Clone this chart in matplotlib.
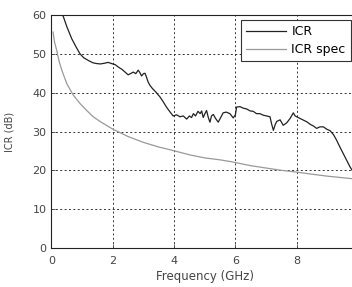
import matplotlib
matplotlib.use('Agg')
import matplotlib.pyplot as plt

# ICR measured curve (GHz, dB)
icr_freq = [0.3, 0.39, 0.5, 0.66, 0.8, 0.93, 1.05, 1.2, 1.35, 1.47, 1.6,
            1.74, 1.85, 1.96, 2.08, 2.18, 2.3, 2.4, 2.5, 2.6, 2.67, 2.75,
            2.83, 2.88, 2.94, 3.0, 3.05, 3.1, 3.15, 3.21, 3.3, 3.4, 3.54,
            3.65, 3.75, 3.87, 3.97, 4.08, 4.19, 4.3, 4.41, 4.5, 4.57, 4.63,
            4.7, 4.78, 4.85, 4.9, 4.95, 5.0, 5.06, 5.12, 5.17, 5.22, 5.28,
            5.35, 5.44, 5.52, 5.6, 5.7, 5.82, 5.93, 6.0, 6.04, 6.15, 6.26,
            6.37, 6.48, 6.58, 6.69, 6.8, 6.91, 7.02, 7.13, 7.18, 7.24, 7.3,
            7.35, 7.46, 7.56, 7.67, 7.78, 7.89, 7.95, 8.0, 8.1, 8.2, 8.33,
            8.45, 8.55, 8.65, 8.76, 8.87, 8.98, 9.09, 9.2, 9.3, 9.41, 9.52,
            9.63, 9.74, 9.85, 10.0]
icr_db = [61, 59.5, 57, 53.9, 51.8, 50.0, 49.0, 48.3, 47.7, 47.5, 47.4,
          47.6, 47.8, 47.5, 47.2, 46.6, 46.0, 45.3, 44.6, 45.0, 45.3, 44.9,
          45.8, 45.2, 44.3, 44.9, 45.0, 44.0, 42.8, 41.9, 41.0, 40.2, 38.9,
          37.6, 36.3, 35.0, 34.0, 34.3, 33.8, 34.0, 33.2, 34.0, 33.6, 34.6,
          34.0, 35.2, 34.6, 35.3, 33.6, 34.5, 35.4, 33.5, 32.4, 34.0, 34.4,
          33.4, 32.4, 33.6, 34.8, 35.0, 34.6, 33.5, 34.3, 36.3, 36.4, 36.0,
          35.8, 35.3, 35.2, 34.6, 34.6, 34.2, 34.0, 33.8, 32.0, 30.3, 31.8,
          32.6, 33.0, 31.6, 32.2, 33.3, 34.8, 34.0, 33.8, 33.4, 33.0, 32.5,
          31.8, 31.4, 30.8, 31.2, 31.2, 30.6, 30.2, 29.2, 27.8, 26.0, 24.3,
          22.6, 20.9, 19.5, 18.0]

# ICR specification curve
spec_freq = [0.05, 0.1, 0.17, 0.25, 0.35, 0.5, 0.7, 0.93, 1.15, 1.36, 1.6,
             2.0, 2.5, 3.0, 3.5, 3.92, 4.5, 5.0, 5.5, 5.88, 6.5, 7.0, 7.5,
             7.94, 8.5, 9.0, 9.5, 10.0]
spec_db = [55.6, 53.0, 50.9, 48.0, 45.5, 42.3, 39.5, 37.2, 35.4, 33.8, 32.5,
           30.6, 28.7, 27.2, 26.0, 25.2, 24.0, 23.2, 22.7, 22.2, 21.2, 20.6,
           20.0, 19.6, 19.0, 18.5, 18.1, 17.7]

x_ticks = [0, 2, 4, 6, 8, 10]
y_ticks = [0, 10, 20, 30, 40, 50, 60]

plt.rcParams['font.family'] = ['DejaVu Sans']
txt = '#444444'

fig = plt.figure(figsize=(3.52, 2.87), dpi=100)
ax = fig.add_axes([0.1463, 0.1359, 0.8707, 0.8118])

ax.plot(icr_freq, icr_db, color='#222222', lw=0.9, label='ICR')
ax.plot(spec_freq, spec_db, color='#999999', lw=0.9, label='ICR spec')

ax.set_xlim(0, 10)
ax.set_ylim(0, 60)
ax.set_xticks(x_ticks)
ax.set_yticks(y_ticks)
ax.tick_params(direction='in', length=3, width=0.6, labelsize=8,
               colors=txt)
ax.tick_params(axis='x', pad=6)
ax.tick_params(axis='y', pad=3.5)
ax.grid(True, color='#333333', linestyle=(0, (2, 2.5)), linewidth=0.7)
for side in ax.spines:
    ax.spines[side].set_linewidth(0.8)
    ax.spines[side].set_color('#222222')

ax.set_xlabel('Frequency (GHz)', fontsize=8.5, color=txt, labelpad=3)
ax.set_ylabel('ICR (dB)', fontsize=7, color=txt)
ax.yaxis.set_label_coords(-0.12, 0.5)

leg = ax.legend(loc='upper right', bbox_to_anchor=(0.976, 0.9785),
                fontsize=9, frameon=True, fancybox=False, framealpha=1,
                edgecolor='#333333', handlelength=3.2, borderpad=0.4,
                labelspacing=0.4, handletextpad=0.45, borderaxespad=0)
leg.get_frame().set_linewidth(0.8)

fig.savefig('out.png', dpi=100)
